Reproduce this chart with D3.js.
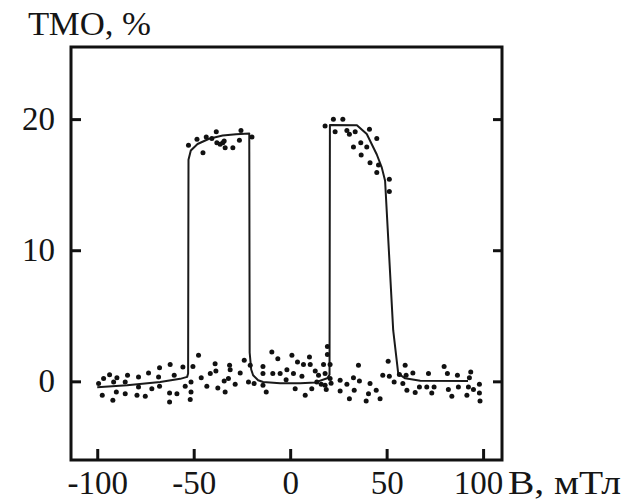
<!DOCTYPE html>
<html>
<head>
<meta charset="utf-8">
<script src="https://cdn.jsdelivr.net/npm/d3@7"></script>
<style>
  body { margin: 0; background: #fff; }
  svg text { font-family: "Liberation Serif", "DejaVu Serif", serif; fill: #151515; }
</style>
</head>
<body>
<div id="chart"></div>
<script>
// Hysteresis of TMR vs field: fitted curve plus measured points

// fitted curve (B in mT, TMR in %)
var curveB = [-100, -84.5, -67.4, -57, -53.4, -52.9, -52.7, -51.5, -48, -42, -35, -28, -21.2,
  -21.0, -20.2, -19.2, -16.6, -14, -5.2, 5.2, 13, 19.2, 20.4, 20.6, 34.6, 39.7, 44.9, 47.5,
  49.2, 53.4, 56, 59.6, 67.4, 92.2];
var curveT = [-0.46, -0.3, -0.05, 0.19, 0.34, 0.6, 16.9, 17.6, 18.1, 18.5, 18.75, 18.85, 18.9,
  2.2, 0.9, 0.46, 0.08, -0.05, -0.15, -0.15, -0.08, 0.23, 0.5, 19.55, 19.54, 18.86, 17.3, 16.3,
  15.3, 3.9, 0.6, 0.23, 0.04, 0.02];

// measured points
var pointB = [-99.3, -96.7, -93.6, -91.5, -89.8, -97.4, -90.1, -91.9, -85.5, -84.3, -85.5, -78.6,
  -78.6, -79.4, -75.1, -73.4, -71.7, -67.7, -68.2, -67.7, -62.2, -62.5, -62.5, -58.7, -55.6,
  -50.4, -47.5, -60.1, -54.4, -51.4, -51.4, -51.8, -46.1, -43.2, -41.4, -38.9, -38.5, -37.5,
  -34.2, -33.7, -32.0, -31.4, -31.1, -28.5, -25.9, -23.8, -21.6, -20.7, -18.7, -14.1, -12.4,
  -14.1, -14.1, -9.5, -6.4, -9.0, -5.2, -1.7, -2.1, 0.9, 1.7, 3.8, 2.6, 6.1, 6.9, 7.8, 10.0,
  10.4, 11.2, 13.0, 13.8, 14.7, 17.3, 18.1, 18.1, 19.3, 19.3, 20.7, 20.7, 21.2, 18.7, 16.1,
  25.9, 29.4, 32.8, 35.4, 35.9, 30.7, 25.9, 33.2, 39.4, 40.6, 41.4, 44.6, 46.6, 48.0, 50.8,
  51.4, 53.9, 56.6, 58.4, 59.6, 60.1, 63.6, 60.5, 64.8, 67.0, 70.8, 71.7, 73.4, 74.6, 79.8,
  81.5, 82.0, 83.8, 86.7, 87.2, 91.6, 92.4, 93.6, 92.9, 95.0, 98.1, 98.1, 98.4,
  -52.7, -48.3, -43.5, -45.2, -40.6, -38.3, -38.0, -36.3, -34.9, -33.7, -34.2, -29.7, -26.3,
  -25.5, -19.8,
  18.1, 22.4, 27.3, 23.3, 29.4, 30.7, 33.7, 41.1, 44.9, 32.8, 36.6, 39.7, 36.8, 41.4, 45.8,
  44.9, 51.4, 51.4];
var pointT = [-0.17, 0.21, 0.51, -0.05, 0.28, -1.06, -0.81, -1.44, -0.94, 0.46, -0.05, 0.33,
  -0.43, -1.06, -1.14, 0.63, -0.56, 1.04, 0.33, -0.38, 1.29, -0.89, -1.57, -0.94, 1.09,
  1.14, 1.98, 0.46, -0.38, -0.05, -0.81, -1.39, 0.28, -0.38, 0.59, 1.35, 0.78, -0.51,
  0.02, -0.81, 0.21, 1.22, 0.89, -0.23, 0.63, 1.60, -0.05, 1.22, -0.17, -0.30, -0.81,
  1.14, 0.59, 2.23, 1.73, 0.59, 0.59, 0.89, 0.13, 1.98, 0.59, 1.47, -0.56, 0.38, 1.29, -1.06, 1.85,
  1.29, -0.56, 0.78, -0.05, 0.46, 1.29, 0.59, -0.30, 2.66, 2.05, 0.21, 1.29, -0.15, -0.63, -0.23,
  0.08, -0.23, 0.28, 1.22, 0.02, -1.32, -0.74, -0.68, -1.50, -0.94, -0.17, -0.68, -1.32, 0.46, 1.54,
  0.38, -0.05, 0.53, -0.17, 1.22, 0.46, 0.63, -0.68, -0.86, -0.43, -0.43, 0.59, -0.89, -0.43, 1.14,
  0.59, -0.63, -1.14, 0.46, -0.43, -1.06, -0.43, 0.71, 0.28, -0.63, -0.23, -0.89, -1.50,
  18.0, 18.46, 18.63, 17.44, 18.53, 19.04, 18.20, 18.08, 18.20, 17.82, 18.33, 17.82, 18.38,
  19.14, 18.63,
  19.47, 19.98, 19.98, 19.04, 19.14, 18.84, 19.04, 19.22, 18.53, 17.87, 18.20, 17.87, 17.26, 16.68, 16.50,
  15.92, 15.42, 14.47];

var xTicks = [-100, -50, 0, 50, 100];
var yTicks = [0, 10, 20];

var W = 637, H = 502;
// plot frame
var frame = { left: 71, right: 502, top: 47, bottom: 460 };

var svg = d3.select("#chart").append("svg")
  .attr("width", W)
  .attr("height", H);

var x = d3.scaleLinear().domain([-113.6, 109.8]).range([frame.left, frame.right]);
var y = d3.scaleLinear().domain([-6.0, 25.5]).range([frame.bottom, frame.top]);

var curve = curveB.map(function(b, i) { return [b, curveT[i]]; });
var points = pointB.map(function(b, i) { return [b, pointT[i]]; });

// axes with ticks pointing inwards
var xAxisG = svg.append("g")
  .attr("transform", "translate(0," + frame.bottom + ")")
  .call(d3.axisBottom(x).tickValues(xTicks).tickSizeInner(-11).tickSizeOuter(0)
    .tickPadding(11).tickFormat(function(d) { return String(d); }));

svg.append("g")
  .attr("transform", "translate(" + frame.left + ",0)")
  .call(d3.axisLeft(y).tickValues(yTicks).tickSizeInner(-10).tickSizeOuter(0)
    .tickPadding(16).tickFormat(function(d) { return String(d); }));

svg.append("g")
  .attr("transform", "translate(" + frame.right + ",0)")
  .call(d3.axisRight(y).tickValues(yTicks).tickSizeInner(-9).tickSizeOuter(0).tickFormat(""));

svg.selectAll(".domain").remove();
svg.selectAll(".tick line").attr("stroke", "#111").attr("stroke-width", 3);
svg.selectAll(".tick text")
  .attr("font-size", 33)
  .attr("font-family", "Liberation Serif, serif")
  .attr("fill", "#151515");

// the last label sits a little left so the unit fits after it
xAxisG.selectAll(".tick text")
  .filter(function(d) { return d === 100; })
  .attr("dx", -5);

// frame
svg.append("rect")
  .attr("x", frame.left)
  .attr("y", frame.top)
  .attr("width", frame.right - frame.left)
  .attr("height", frame.bottom - frame.top)
  .attr("fill", "none")
  .attr("stroke", "#111")
  .attr("stroke-width", 3);

// fitted curve
svg.append("path")
  .datum(curve)
  .attr("d", d3.line().x(function(d) { return x(d[0]); }).y(function(d) { return y(d[1]); }))
  .attr("fill", "none")
  .attr("stroke", "#1a1a1a")
  .attr("stroke-width", 2)
  .attr("stroke-linejoin", "round");

// data points
svg.selectAll(".pt")
  .data(points)
  .enter().append("circle")
  .attr("class", "pt")
  .attr("cx", function(d) { return x(d[0]); })
  .attr("cy", function(d) { return y(d[1]); })
  .attr("r", 2.5)
  .attr("fill", "#111");

// axis titles
svg.append("text")
  .text("ТМО, %")
  .attr("x", 28)
  .attr("y", 35)
  .attr("font-size", 33)
  .attr("textLength", 123)
  .attr("lengthAdjust", "spacingAndGlyphs");

svg.append("text")
  .text("B, мТл")
  .attr("x", 508)
  .attr("y", 494)
  .attr("font-size", 33)
  .attr("textLength", 113)
  .attr("lengthAdjust", "spacingAndGlyphs");
</script>
</body>
</html>
